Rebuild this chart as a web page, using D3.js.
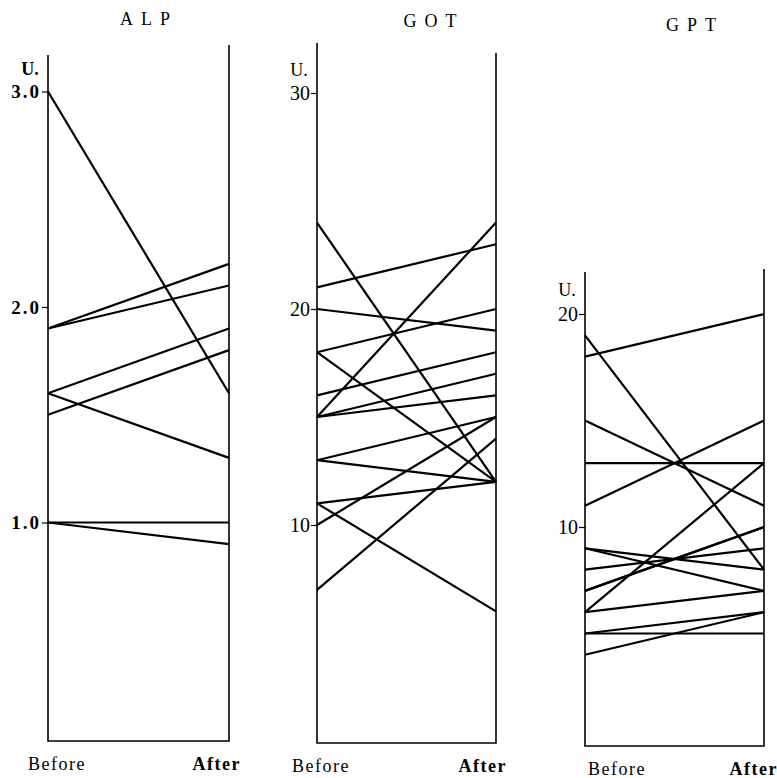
<!DOCTYPE html>
<html>
<head>
<meta charset="utf-8">
<script src="https://cdn.jsdelivr.net/npm/d3@7"></script>
<style>
  html, body { margin: 0; padding: 0; background: #fff; }
  svg { display: block; }
  .title { font-family: "Liberation Serif", serif; font-size: 18px; letter-spacing: 8px; }
  .cat { font-family: "Liberation Serif", serif; font-size: 18px; letter-spacing: 1.5px; }
</style>
</head>
<body>
<svg id="chart" width="777" height="778"></svg>
<script>
// data
const panelNames = ['ALP', 'GOT', 'GPT'];
const phases = ['Before', 'After'];

const alpBefore = [3.0, 1.9, 1.9, 1.6, 1.5, 1.6, 1.0, 1.0];
const alpAfter = [1.6, 2.2, 2.1, 1.9, 1.8, 1.3, 1.0, 0.9];
const alpTicks = [1, 2, 3];
const alpTickLabels = ['1.0', '2.0', '3.0'];

const gotBefore = [24, 21, 20, 18, 18, 16, 15, 15, 15, 13, 13, 11, 11, 10, 7];
const gotAfter = [12, 23, 19, 20, 12, 18, 24, 17, 16, 15, 12, 12, 6, 15, 14];
const gotTicks = [10, 20, 30];
const gotTickLabels = ['10', '20', '30'];

const gptBefore = [19, 18, 15, 13, 11, 9, 9, 8, 7, 7, 6, 6, 5, 5, 4];
const gptAfter = [8, 20, 11, 13, 15, 8, 7, 9, 10, 10, 13, 7, 5, 6, 6];
const gptTicks = [10, 20];
const gptTickLabels = ['10', '20'];

const unitLabel = 'U.';

// layout for each panel
const layout = [
  { before: alpBefore, after: alpAfter, ticks: alpTicks, labels: alpTickLabels,
    xb: 48, xa: 229, top: 91.5, topVal: 3, zero: 738, bottom: 741,
    topB: 55, topA: 45, titleX: 149, titleY: 25, bold: true, unitY: 75,
    beforeX: 28, afterX: 241, catY: 770 },
  { before: gotBefore, after: gotAfter, ticks: gotTicks, labels: gotTickLabels,
    xb: 317, xa: 496, top: 93, topVal: 30, zero: 741, bottom: 743,
    topB: 43, topA: 53, titleX: 434, titleY: 27, bold: false, unitY: 76,
    beforeX: 292, afterX: 507, catY: 772 },
  { before: gptBefore, after: gptAfter, ticks: gptTicks, labels: gptTickLabels,
    xb: 585, xa: 764, top: 314, topVal: 20, zero: 740, bottom: 746,
    topB: 272, topA: 269, titleX: 695, titleY: 31, bold: false, unitY: 296,
    beforeX: 588, afterX: 778, catY: 775 },
];

const svg = d3.select('#chart');

layout.forEach((p, i) => {
  const g = svg.append('g');
  const x = d3.scalePoint().domain(phases).range([p.xb, p.xa]);
  const y = d3.scaleLinear().domain([0, p.topVal]).range([p.zero, p.top]);

  g.append('text')
    .attr('class', 'title')
    .attr('x', p.titleX)
    .attr('y', p.titleY)
    .attr('text-anchor', 'middle')
    .text(panelNames[i]);

  // frame: two uprights joined at the bottom
  g.append('path')
    .attr('d', `M${x('Before')},${p.topB}V${p.bottom}H${x('After')}V${p.topA}`)
    .attr('fill', 'none')
    .attr('stroke', '#000')
    .attr('stroke-width', 1.6);

  const axis = g.append('g')
    .attr('transform', `translate(${x('Before')},0)`)
    .call(d3.axisLeft(y)
      .tickValues(p.ticks)
      .tickFormat((d, k) => p.labels[k])
      .tickSize(6)
      .tickPadding(1));
  axis.select('.domain').remove();
  axis.selectAll('.tick line').attr('stroke', '#000').attr('stroke-width', 1.2);
  axis.selectAll('.tick text')
    .style('font-family', '"Liberation Serif", serif')
    .style('font-size', p.bold ? '19px' : '20px')
    .style('font-weight', p.bold ? 'bold' : 'normal')
    .style('letter-spacing', p.bold ? '2px' : '0px')
    .attr('fill', '#000');

  g.append('text')
    .attr('x', x('Before') - 18)
    .attr('y', p.unitY)
    .attr('text-anchor', 'middle')
    .style('font-family', '"Liberation Serif", serif')
    .style('font-size', '18px')
    .style('font-weight', p.bold ? 'bold' : 'normal')
    .text(unitLabel);

  const pairs = p.before.map((b, k) => [b, p.after[k]]);
  g.append('g')
    .selectAll('line')
    .data(pairs)
    .join('line')
    .attr('x1', x('Before'))
    .attr('x2', x('After'))
    .attr('y1', (d) => y(d[0]))
    .attr('y2', (d) => y(d[1]))
    .attr('stroke', '#000')
    .attr('stroke-width', 2.2);

  g.append('text')
    .attr('class', 'cat')
    .attr('x', p.beforeX)
    .attr('y', p.catY)
    .text(phases[0]);
  g.append('text')
    .attr('class', 'cat')
    .attr('x', p.afterX)
    .attr('y', p.catY)
    .attr('text-anchor', 'end')
    .attr('font-weight', 'bold')
    .text(phases[1]);
});
</script>
</body>
</html>
